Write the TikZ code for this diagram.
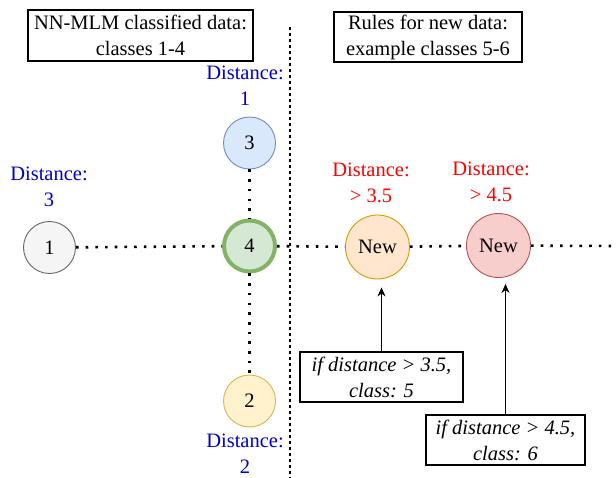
\documentclass[tikz,border=0pt]{standalone}
\usepackage{fontspec}
\setmainfont{Liberation Serif}
\usetikzlibrary{arrows.meta, positioning}
\definecolor{DistBlue}{RGB}{0,0,204}
\definecolor{DistRed}{RGB}{255,0,0}
\definecolor{GrayFill}{HTML}{F5F5F5}
\definecolor{GrayLine}{HTML}{666666}
\definecolor{BlueFill}{HTML}{DAE8FC}
\definecolor{BlueLine}{HTML}{6C8EBF}
\definecolor{GreenFill}{HTML}{D5E8D4}
\definecolor{GreenLine}{HTML}{82B366}
\definecolor{YellowFill}{HTML}{FFF2CC}
\definecolor{YellowLine}{HTML}{D6B656}
\definecolor{OrangeFill}{HTML}{FFE6CC}
\definecolor{OrangeLine}{HTML}{D79B00}
\definecolor{RedFill}{HTML}{F8CECC}
\definecolor{RedLine}{HTML}{B85450}

\begin{document}
\begin{tikzpicture}[
      x=1pt, y=-1pt,
      font=\fontsize{20.5}{26}\selectfont,
      cls/.style={circle, draw, minimum size=52pt, inner sep=0pt, line width=0.9pt},
      newcls/.style={cls, minimum size=64pt},
      note/.style={rectangle, draw, line width=1.1pt, align=center, inner sep=0pt},
      dist/.style={align=center, text=DistBlue},
      distnew/.style={align=center, text=DistRed},
      link/.style={line width=2.6pt, dash pattern=on 2.6pt off 7.1pt},
      pointer/.style={-{Stealth[length=9pt, width=8pt]}, line width=1.1pt}
    ]
    \useasboundingbox (0,0) rectangle (616,478);

    % Titles of the two halves
    \node[note, minimum width=225pt, minimum height=51pt]
          (known) at (140.5,35.5) {NN-MLM classified data:\\classes 1-4};
    \node[note, minimum width=188pt, minimum height=50pt]
          (rules) at (428,37) {Rules for new data:\\example classes 5-6};

    % Separator
    \coordinate (sepTop) at (290,27);
    \coordinate (sepBot) at (290,478);
    \draw[line width=1.3pt, dash pattern=on 3pt off 3pt] (sepTop) -- (sepBot);

    % Known classes
    \node[cls, fill=GreenFill, draw=GreenLine, minimum size=51pt, line width=4pt]
          (c4) at (249.5,246) {4};
    \node[cls, fill=GrayFill, draw=GrayLine]    (c1) at (49.5,247.5) {1};
    \node[cls, fill=BlueFill, draw=BlueLine]    (c3) at (249.5,143) {3};
    \node[cls, fill=YellowFill, draw=YellowLine] (c2) at (249.5,401) {2};

    % New classes
    \node[newcls, fill=OrangeFill, draw=OrangeLine] (new5) at (377.5,247) {New};
    \node[newcls, fill=RedFill, draw=RedLine]       (new6) at (498.5,245.5) {New};
    \coordinate (lineEnd) at (616,246);

    % Distances
    \node[dist] (d1) at (49,187) {Distance:\\3};
    \node[dist] (d3) at (245,86) {Distance:\\1};
    \node[dist] (d2) at (245,454) {Distance:\\2};
    \node[distnew] (d5) at (371,183) {Distance:\\> 3.5};
    \node[distnew] (d6) at (491,182) {Distance:\\> 4.5};

    % Dotted links
    \foreach \a/\b in {c1/c4, c4/new5, new5/new6, new6/lineEnd, c3/c4, c4/c2}
      \draw[link] (\a) -- (\b);

    % Rules for the new classes
    \node[note, minimum width=163pt, minimum height=50pt, font=\fontsize{20.5}{26}\selectfont\itshape]
          (rule5) at (381.5,377) {if distance > 3.5,\\class: 5};
    \node[note, minimum width=159pt, minimum height=50pt, font=\fontsize{20.5}{26}\selectfont\itshape]
          (rule6) at (505.5,440) {if distance > 4.5,\\class: 6};
    \draw[pointer, shorten >=8pt] (rule5.north) -- (rule5.north |- new5.south);
    \draw[pointer, shorten >=6pt] (rule6.north) -- (rule6.north |- new6.south);
  \end{tikzpicture}
\end{document}
